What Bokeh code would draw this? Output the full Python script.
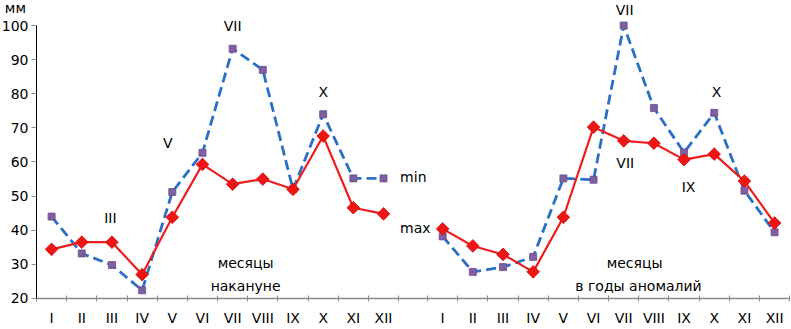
import math
from bokeh.plotting import figure
from bokeh.models import FixedTicker, Range1d
from bokeh.core.properties import value
from bokeh.embed import file_html
from bokeh.resources import INLINE

# ---- data ----
months = ["I", "II", "III", "IV", "V", "VI", "VII", "VIII", "IX", "X", "XI", "XII"]
before_min = [44, 33.2, 29.8, 22.4, 51.2, 62.7, 93.2, 87.0, 52.0, 74.0, 55.2, 55.2]
before_max = [34.4, 36.5, 36.5, 27.0, 43.8, 59.3, 53.5, 55.0, 52.0, 67.6, 46.6, 44.8]
anom_min = [38.2, 27.8, 29.2, 32.2, 55.2, 54.8, 100.0, 75.8, 62.8, 74.4, 51.6, 39.4]
anom_max = [40.4, 35.4, 32.9, 27.8, 43.8, 70.2, 66.2, 65.5, 60.7, 62.3, 54.4, 42.1]
y_ticks = [20, 30, 40, 50, 60, 70, 80, 90, 100]

# annotations: (text, panel, x in category units, y value)
annotations = [
    ("III", 0, 2.45, 43.5), ("V", 0, 4.35, 65.5), ("VII", 0, 6.5, 100.0), ("X", 0, 9.5, 80.4),
    ("VII", 1, 6.53, 104.5), ("VII", 1, 6.55, 59.6), ("IX", 1, 8.65, 52.6), ("X", 1, 9.58, 80.4),
]
captions = [("месяцы", 0, 6.93, 30.3), ("накануне", 0, 6.93, 23.8),
            ("месяцы", 1, 6.86, 30.3), ("в годы аномалий", 1, 6.99, 23.8)]
series_names = [("min", 55.5), ("max", 40.8)]
unit_label = ("мм", -0.7, 105.0)

offsets = [0.0, 12.96]
FONT = "DejaVu Sans"
FS = "14px"

p = figure(frame_width=791, frame_height=329, output_backend="svg", toolbar_location=None,
           min_border_left=0, min_border_right=0, min_border_top=0, min_border_bottom=0,
           x_range=Range1d(-1.193, 25.02), y_range=Range1d(10.91, 107.33))
p.outline_line_color = None
p.grid.grid_line_color = None
p.background_fill_color = "white"

centers = []
bounds = []
labels = {}
for off in offsets:
    for i, m in enumerate(months):
        c = off + i + 0.5
        centers.append(c)
        labels[c] = m
    bounds.extend([off + k for k in range(13)])

p.xaxis.fixed_location = 20
p.xaxis.ticker = FixedTicker(ticks=centers, minor_ticks=bounds)
p.xaxis.bounds = (0, 24.95)
p.xaxis.major_label_overrides = labels
p.xaxis.major_tick_line_color = None
p.xaxis.major_tick_out = 0
p.xaxis.major_tick_in = 0
p.xaxis.minor_tick_line_color = "#8c8c8c"
p.xaxis.minor_tick_in = 3
p.xaxis.minor_tick_out = 3
p.xaxis.axis_line_color = "#8c8c8c"
p.xaxis.axis_line_width = 1.5
p.xaxis.major_label_standoff = 9
p.xaxis.major_label_text_font = FONT
p.xaxis.major_label_text_font_size = FS
p.xaxis.major_label_text_color = "black"

p.yaxis.fixed_location = 0
p.yaxis.ticker = FixedTicker(ticks=y_ticks)
p.yaxis.bounds = (20, 100)
p.yaxis.axis_line_color = "black"
p.yaxis.major_tick_line_color = "#8c8c8c"
p.yaxis.major_tick_out = 5
p.yaxis.major_tick_in = 0
p.yaxis.minor_tick_line_color = None
p.yaxis.major_label_standoff = 3
p.yaxis.major_label_text_font = FONT
p.yaxis.major_label_text_font_size = FS
p.yaxis.major_label_text_color = "black"

for off, mins, maxs in [(offsets[0], before_min, before_max), (offsets[1], anom_min, anom_max)]:
    xs = [off + i + 0.5 for i in range(len(months))]
    p.line(xs, mins, line_color="#2b6fc6", line_width=2.8, line_dash="10 5")
    p.scatter(xs, mins, marker="square", size=7, fill_color="#7f5fa2", line_color="#6a4e8c", line_width=0.8)
    p.line(xs, maxs, line_color="#ee1c1c", line_width=2.2)
    p.scatter(xs, maxs, marker="square", angle=math.pi / 4, size=9, fill_color="#f01515",
              line_color="#c41212", line_width=0.8)

ax = [offsets[a[1]] + a[2] for a in annotations]
p.text(ax, [a[3] for a in annotations], text=[a[0] for a in annotations],
       text_font=value(FONT), text_font_size=FS, text_align="center", text_baseline="middle",
       text_color="black")

cx = [offsets[c[1]] + c[2] for c in captions]
p.text(cx, [c[3] for c in captions], text=[c[0] for c in captions],
       text_font=value(FONT), text_font_size=FS, text_align="center", text_baseline="middle",
       text_color="black")

p.text([12.05] * len(series_names), [s[1] for s in series_names], text=[s[0] for s in series_names],
       text_font=value(FONT), text_font_size=FS, text_align="left", text_baseline="middle",
       text_color="black")

p.text([unit_label[1]], [unit_label[2]], text=[unit_label[0]],
       text_font=value(FONT), text_font_size=FS, text_align="center", text_baseline="middle",
       text_color="black")

open("out.html", "w").write(file_html(p, INLINE))
